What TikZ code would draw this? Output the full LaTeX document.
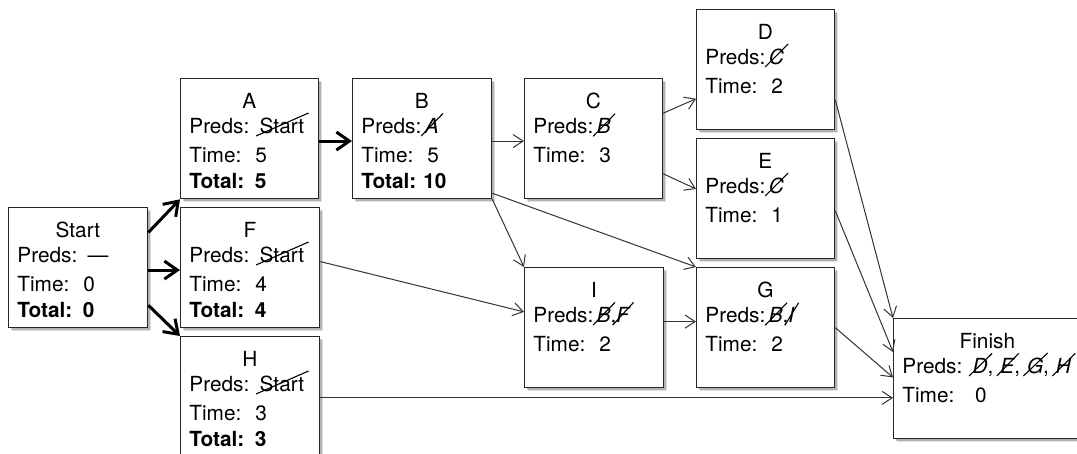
\documentclass[tikz,border=0pt]{standalone}
\usepackage{fontspec}
\setmainfont{TeX Gyre Heros}
\usetikzlibrary{arrows.meta,shadows,calc}
\newlength\xow
\newlength\xoh
\newcommand\xo[1]{\settowidth\xow{#1}\settoheight\xoh{#1}{#1}\tikz[overlay,baseline=0pt]\draw[line width=0.55pt,black] (-\xow-1.8pt,-1.2pt) -- (2.2pt,\xoh+2.5pt);}
\newcommand\ttl[2]{\makebox[#1]{#2}}
\tikzset{
  box/.style={draw=black!85, line width=0.65pt, fill=white, rectangle, inner sep=0pt,
    anchor=north west, minimum width=69pt, minimum height=60pt,
    drop shadow={shadow xshift=1.8pt, shadow yshift=-1.8pt, opacity=0.12, fill=black},
    drop shadow={shadow xshift=1.1pt, shadow yshift=-1.1pt, opacity=0.2, fill=black}},
  txt/.style={anchor=north west, inner sep=0pt, text width=60pt, align=left,
    font=\fontsize{10.4}{13}\selectfont},
  thinarr/.style={draw=black!80, line width=0.5pt, -{Straight Barb[length=5pt,width=6.5pt]}},
  thickarr/.style={draw=black, line width=1.5pt, -{Straight Barb[length=6.5pt,width=9pt]}},
}
\newcommand\task[5]{% name, pos, box width, text width, content
  \node[box, minimum width=#3] (#1) at (#2) {};
  \node[txt, text width=#4] (#1t) at ([xshift=4.5pt,yshift=-7.5pt]#1.north west) {#5};
}
\begin{document}
\begin{tikzpicture}[x=0.5pt,y=-0.5pt]
\clip (0,0) rectangle (1077,454);
\fill[white] (0,0) rectangle (1077,454);
\task{Start}{8,207}{69.5pt}{60.5pt}{\ttl{60.5pt}{Start}\\[-0.5pt]Preds: —\\[1.5pt]Time:\ \ 0\\\textbf{Total: 0}}
\task{A}{180,78}{69pt}{60pt}{\ttl{60pt}{A}\\[-0.5pt]Preds: \xo{Start}\\[1.5pt]Time:\ \ 5\\\textbf{Total: 5}}
\task{F}{180,207}{69.5pt}{60.5pt}{\ttl{60.5pt}{F}\\[-0.5pt]Preds: \xo{Start}\\[1.5pt]Time:\ \ 4\\\textbf{Total: 4}}
\task{H}{180,336}{69.5pt}{60.5pt}{\ttl{60.5pt}{H}\\[-0.5pt]Preds: \xo{Start}\\[1.5pt]Time:\ \ 3\\\textbf{Total: 3}}
\task{B}{352,78}{69.5pt}{60.5pt}{\ttl{60.5pt}{B}\\[-0.5pt]Preds:\,\xo{\itshape A}\\[1.5pt]Time:\ \ 5\\\textbf{Total:\ 10}}
\task{C}{524,78}{69pt}{60pt}{\ttl{60pt}{C}\\[-0.5pt]Preds:\,\xo{\itshape B}\\[1.5pt]Time:\ \ 3}
\task{D}{696,9}{69pt}{60pt}{\ttl{60pt}{D}\\[-0.5pt]Preds:\,\xo{\itshape C}\\[1.5pt]Time:\ \ 2}
\task{E}{696,138}{69pt}{60pt}{\ttl{60pt}{E}\\[-0.5pt]Preds:\,\xo{\itshape C}\\[1.5pt]Time:\ \ 1}
\task{I}{524,267}{69.5pt}{60.5pt}{\ttl{60.5pt}{I}\\[-0.5pt]Preds:\,\xo{\itshape B},\xo{\itshape F}\\[1.5pt]Time:\ \ 2}
\task{G}{696,267}{69pt}{60pt}{\ttl{60pt}{G}\\[-0.5pt]Preds:\,\xo{\itshape B},\xo{\itshape I}\\[1.5pt]Time:\ \ 2}
\task{Finish}{893,318}{94pt}{85pt}{\ttl{85pt}{Finish}\\[-0.5pt]Preds: \xo{\itshape D}, \xo{\itshape E}, \xo{\itshape G}, \xo{\itshape H}\\[1.5pt]Time:\ \ \ 0}
% critical path
\draw[thickarr] ($(Start.north east)!0.21!(Start.south east)$) -- (A.south west);
\draw[thickarr] ($(Start.north east)!0.52!(Start.south east)$) -- ($(F.north west)!0.52!(F.south west)$);
\draw[thickarr] ($(Start.north east)!0.81!(Start.south east)$) -- (H.north west);
\draw[thickarr] ($(A.north east)!0.52!(A.south east)$) -- ($(B.north west)!0.52!(B.south west)$);
% other connectors
\draw[thinarr] ($(B.north east)!0.52!(B.south east)$) -- ($(C.north west)!0.52!(C.south west)$);
\draw[thinarr] (B.south east) -- (I.north west);
\draw[thinarr] ($(B.north east)!0.95!(B.south east)$) -- (G.north west);
\draw[thinarr] ($(C.north east)!0.29!(C.south east)$) -- ($(D.north west)!0.74!(D.south west)$);
\draw[thinarr] ($(C.north east)!0.79!(C.south east)$) -- ($(E.north west)!0.42!(E.south west)$);
\draw[thinarr] ($(F.north east)!0.45!(F.south east)$) -- ($(I.north west)!0.37!(I.south west)$);
\draw[thinarr] ($(I.north east)!0.45!(I.south east)$) -- ($(G.north west)!0.45!(G.south west)$);
\draw[thinarr] ($(D.north east)!0.75!(D.south east)$) -- (Finish.north west);
\draw[thinarr] ($(E.north east)!0.6!(E.south east)$) -- ($(Finish.north west)!0.28!(Finish.south west)$);
\draw[thinarr] (G.east) -- ($(Finish.north west)!0.49!(Finish.south west)$);
\draw[thinarr] ($(H.north east)!0.51!(H.south east)$) coordinate (hf) -- (hf -| Finish.west);
\end{tikzpicture}
\end{document}
